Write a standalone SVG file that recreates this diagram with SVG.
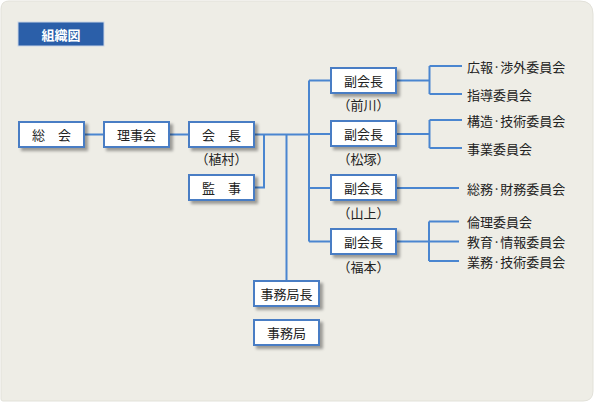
<svg xmlns="http://www.w3.org/2000/svg" width="594" height="404" viewBox="0 0 594 404">
<defs>
<filter id="sh" x="-20%" y="-30%" width="150%" height="180%">
<feGaussianBlur in="SourceAlpha" stdDeviation="1.6"/>
<feOffset dx="2.5" dy="3" result="b"/>
<feComponentTransfer><feFuncA type="linear" slope="0.35"/></feComponentTransfer>
<feMerge><feMergeNode/><feMergeNode in="SourceGraphic"/></feMerge>
</filter>
</defs>
<style>
.box{fill:#ffffff;stroke:#4a7dc4;stroke-width:2;filter:url(#sh)}
.t{font-family:"Noto Sans CJK JP","Noto Sans CJK SC",sans-serif;font-size:13px;fill:#222;text-anchor:middle;dominant-baseline:central}
.c{font-family:"Noto Sans CJK JP","Noto Sans CJK SC",sans-serif;font-size:13px;fill:#222;dominant-baseline:central}
.ln{fill:none;stroke:#4a86d0;stroke-width:2}
</style>
<rect width="594" height="404" fill="#ffffff"/>
<path d="M9,1 H580 Q593,1 593,14 V391 Q593,401 583,401 H3 Q1,401 1,399 V9 Q1,1 9,1 Z" fill="#eeede6" stroke="#e2e1d9" stroke-width="1"/>
<g id="title">
<rect x="18" y="22" width="86" height="24" fill="#2b5fa9" stroke="#c9d5e6" stroke-width="1"/>
<text x="61" y="34" class="t" style="fill:#ffffff;font-weight:bold">組織図</text>
</g>
<g id="connectors">
<path class="ln" d="M84,134.5 H104 M169,134.5 H189 M254,134.5 H309 M254,187.5 H264 V134.5 M286.5,134.5 V281 M309,80.5 V241.5 M309,80.5 H331 M309,134 H331 M309,188 H331 M309,241.5 H331"/>
<path class="ln" d="M396,80.5 H429.5 M429.5,66 V94 M429.5,66 H462 M429.5,94 H462"/>
<path class="ln" d="M396,134 H429.5 M429.5,120 V148 M429.5,120 H462 M429.5,148 H462"/>
<path class="ln" d="M396,188 H459"/>
<path class="ln" d="M396,241.5 H429 M429,221.5 V261 M429,221.5 H459 M429,241.5 H459 M429,261 H459"/>
</g>
<g id="soukai"><rect class="box" x="19" y="122" width="65" height="25"/><text x="51.5" y="134.5" class="t">総　会</text></g>
<g id="rijikai"><rect class="box" x="104" y="122" width="65" height="25"/><text x="136.5" y="134.5" class="t">理事会</text></g>
<g id="kaicho"><rect class="box" x="189" y="122" width="65" height="25"/><text x="221.5" y="134.5" class="t">会　長</text><text x="221.5" y="158" class="t">（植村）</text></g>
<g id="kanji"><rect class="box" x="189" y="175" width="65" height="25"/><text x="221.5" y="187.5" class="t">監　事</text></g>
<g id="jimukyokucho"><rect class="box" x="254" y="281" width="65" height="25"/><text x="286.5" y="293.5" class="t">事務局長</text></g>
<g id="jimukyoku"><rect class="box" x="254" y="320" width="65" height="25"/><text x="286.5" y="332.5" class="t">事務局</text></g>
<g id="fuku1"><rect class="box" x="331" y="68" width="65" height="25"/><text x="363.5" y="80.5" class="t">副会長</text><text x="363.5" y="104" class="t">（前川）</text></g>
<g id="fuku2"><rect class="box" x="331" y="121" width="65" height="25"/><text x="363.5" y="133.5" class="t">副会長</text><text x="363.5" y="158" class="t">（松塚）</text></g>
<g id="fuku3"><rect class="box" x="331" y="175" width="65" height="25"/><text x="363.5" y="187.5" class="t">副会長</text><text x="363.5" y="212.5" class="t">（山上）</text></g>
<g id="fuku4"><rect class="box" x="331" y="229" width="65" height="25"/><text x="363.5" y="241.5" class="t">副会長</text><text x="363.5" y="266" class="t">（福本）</text></g>
<g id="committees">
<text x="467" y="66" class="c">広報·渉外委員会</text>
<text x="467" y="94" class="c">指導委員会</text>
<text x="467" y="120" class="c">構造·技術委員会</text>
<text x="467" y="148" class="c">事業委員会</text>
<text x="467" y="188" class="c">総務·財務委員会</text>
<text x="467" y="221.5" class="c">倫理委員会</text>
<text x="467" y="241.5" class="c">教育·情報委員会</text>
<text x="467" y="261" class="c">業務·技術委員会</text>
</g>
</svg>
